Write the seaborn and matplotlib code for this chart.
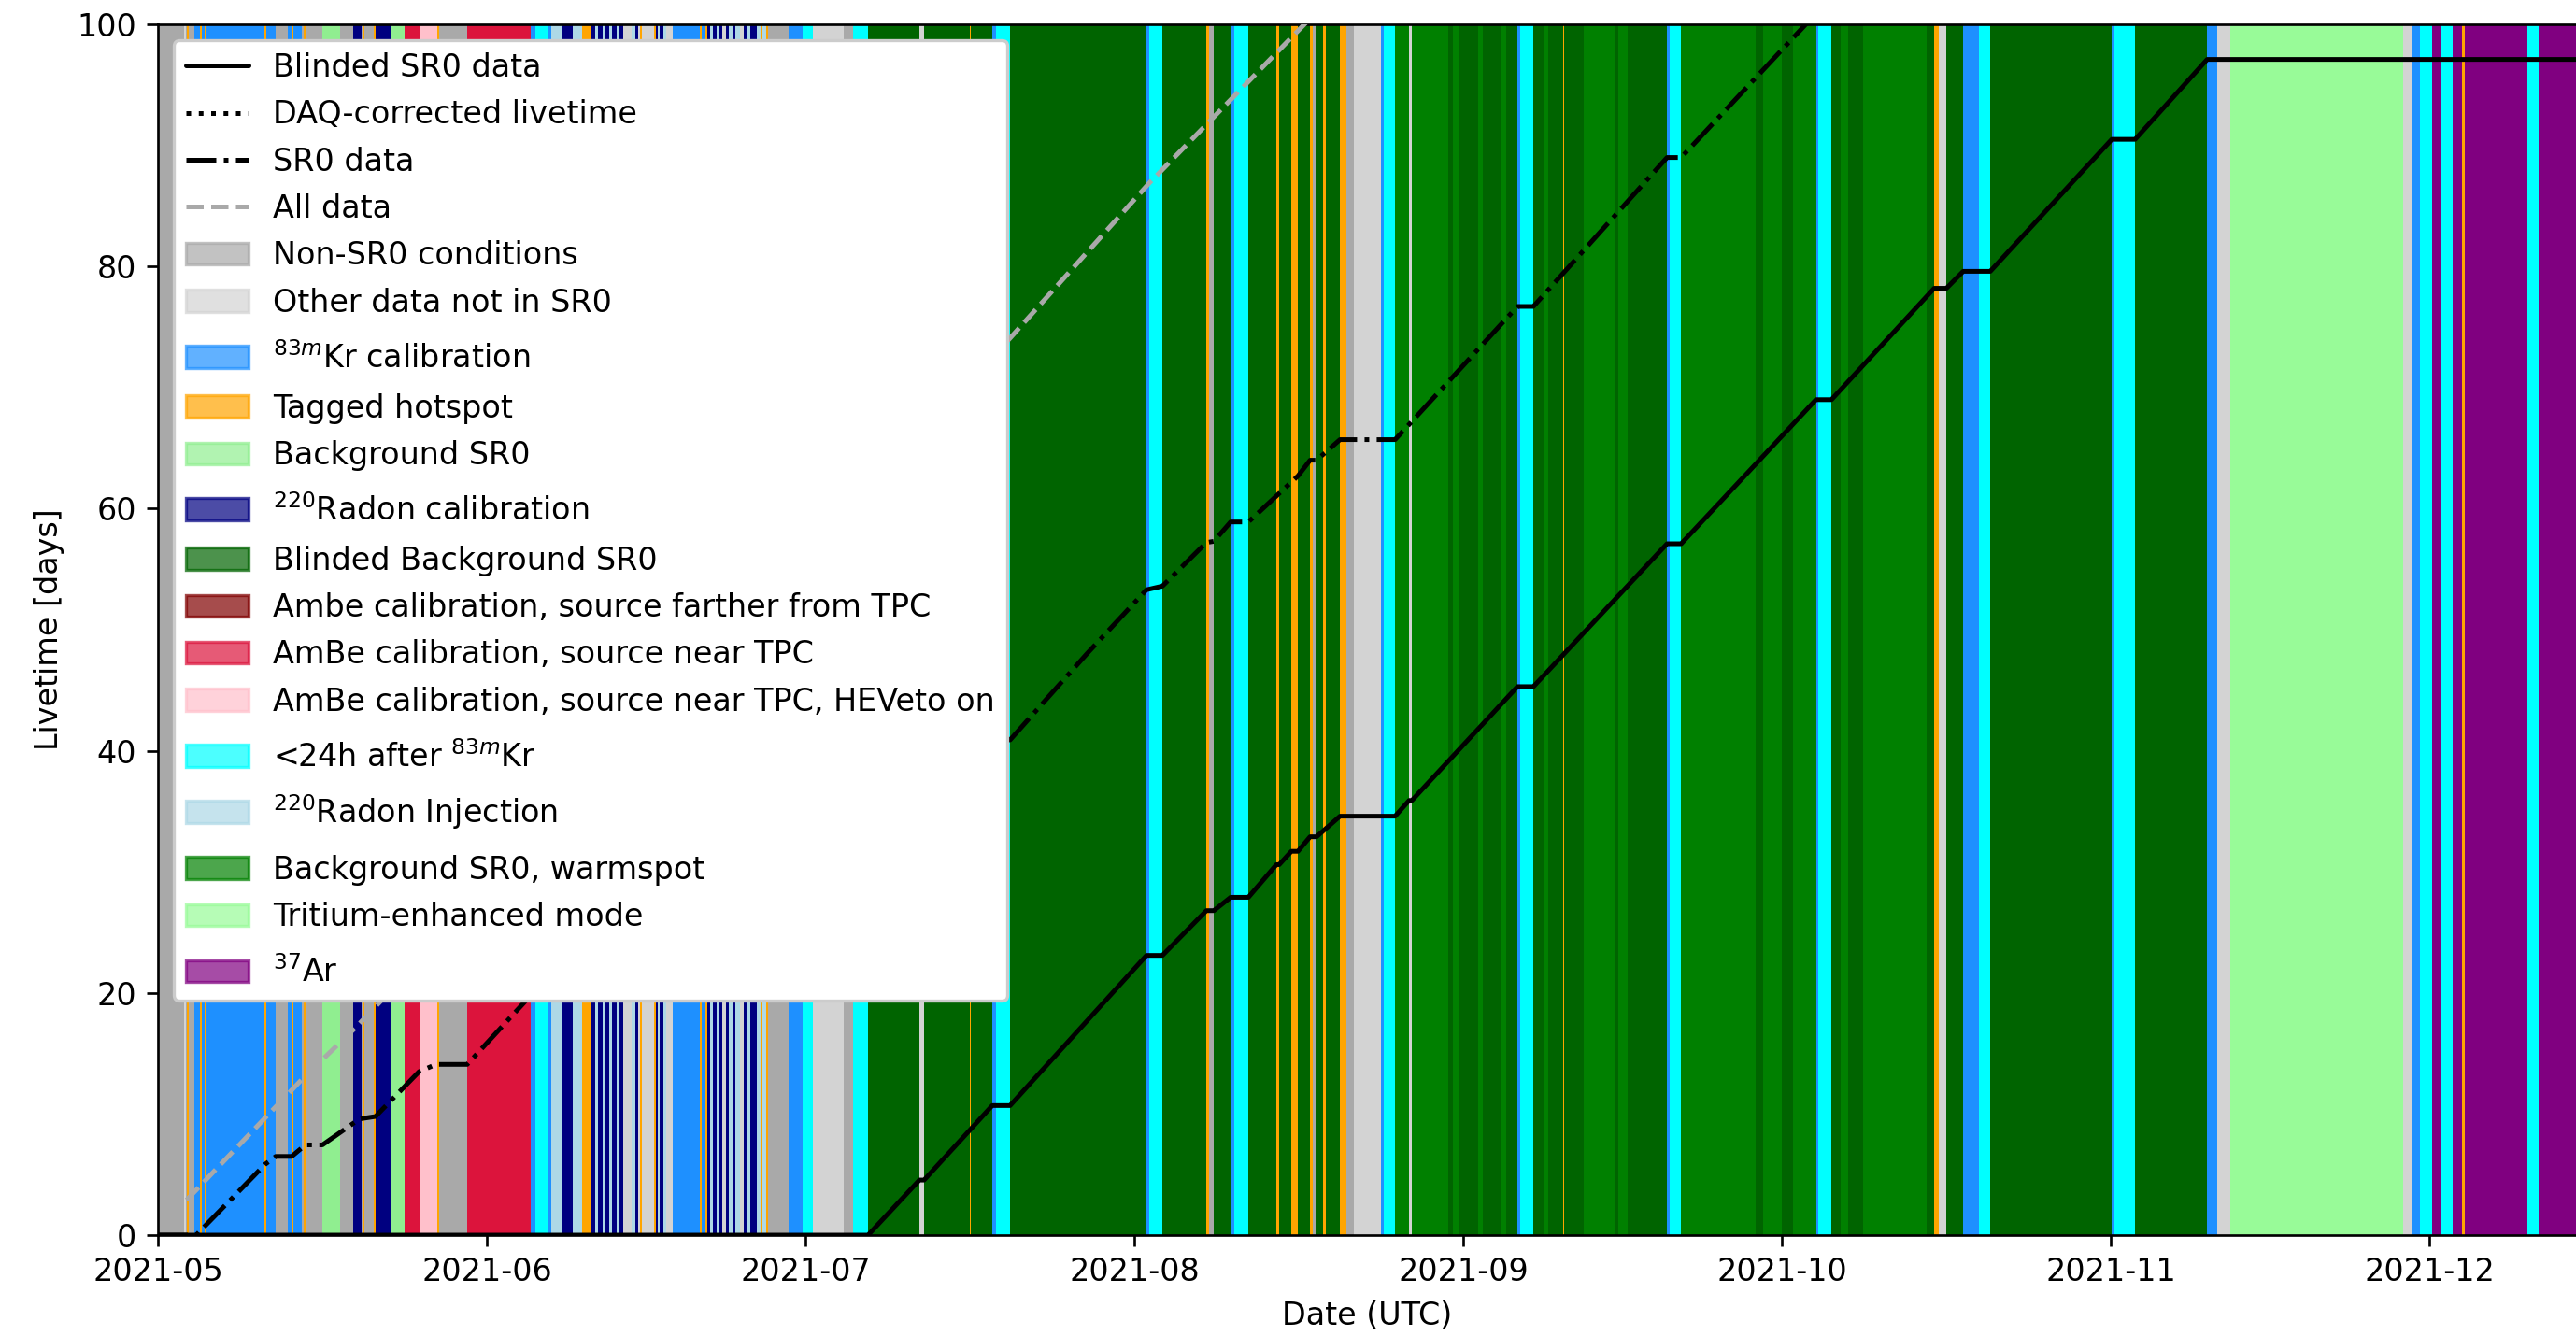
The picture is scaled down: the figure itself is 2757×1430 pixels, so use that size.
import numpy as np
import pandas as pd
import matplotlib
matplotlib.use("Agg")
import matplotlib.pyplot as plt
import matplotlib.dates as mdates
from matplotlib.patches import Patch
from matplotlib.lines import Line2D
import seaborn as sns

START = pd.Timestamp("2021-05-01")
END_DAY = 227.8  # right edge of the time axis, days since START

# ---------------------------------------------------------------------------
# Run-condition timeline. Segment i spans seg_edges[i] .. seg_edges[i+1]
# (days since START) and has condition seg_kind[i].
# ---------------------------------------------------------------------------
seg_edges = [
    0.00, 2.45, 2.60, 2.75, 2.87, 3.43, 4.00, 4.12, 4.43, 4.55,
    10.05, 10.17, 11.10, 12.24, 12.62, 12.74, 13.58, 13.76, 13.88, 15.49,
    17.17, 18.40, 19.19, 19.31, 19.43, 20.36, 20.48, 21.90, 22.02, 23.27,
    24.74, 26.33, 26.47, 29.14, 35.12, 35.56, 36.70, 37.06, 38.10, 39.08,
    39.96, 40.85, 41.20, 41.50, 41.90, 42.20, 42.50, 42.80, 43.20, 43.50,
    43.80, 44.60, 45.00, 45.20, 45.45, 45.57, 46.77, 46.89, 47.10, 47.30,
    47.60, 47.90, 48.50, 51.08, 51.20, 51.60, 51.72, 52.00, 52.30, 52.60,
    52.90, 53.20, 53.50, 53.80, 54.20, 54.40, 54.80, 55.20, 55.50, 55.80,
    56.40, 56.82, 56.94, 57.34, 57.46, 59.42, 60.74, 61.70, 64.60, 65.50,
    66.90, 71.74, 72.18, 76.45, 76.57, 78.60, 78.96, 80.28, 93.13, 93.40,
    94.63, 98.77, 99.03, 99.47, 101.06, 101.40, 102.73, 105.37, 105.63, 106.78,
    107.40, 108.54, 108.80, 109.15, 109.77, 110.04, 111.36, 111.97, 112.70, 115.23,
    115.50, 116.55, 117.87, 118.13, 121.60, 122.00, 122.50, 124.40, 124.80, 126.50,
    127.00, 128.08, 128.35, 129.58, 130.60, 131.00, 132.35, 132.47, 134.30, 137.20,
    137.60, 138.50, 142.17, 142.45, 143.50, 150.50, 151.20, 153.00, 154.00, 156.20,
    156.45, 157.66, 158.50, 159.20, 160.60, 166.60, 167.34, 167.78, 168.49, 170.07,
    171.57, 172.62, 184.07, 184.35, 186.27, 193.05, 194.01, 195.25, 211.53, 212.41,
    213.12, 214.26, 215.14, 216.20, 217.08, 217.34, 223.24, 224.30, 229.00,
]
seg_kind = [
    "nonsr0", "other", "nonsr0", "hot", "nonsr0", "kr", "hot", "kr", "hot", "kr",
    "hot", "kr", "nonsr0", "kr", "hot", "kr", "nonsr0", "hot", "nonsr0", "bg",
    "nonsr0", "rn", "nonsr0", "hot", "nonsr0", "hot", "rn", "hot", "bg", "ambe",
    "ambe_hev", "hot", "nonsr0", "ambe", "kr", "krafter", "kr", "rninj", "rn", "rninj",
    "hot", "rn", "rninj", "rn", "rninj", "rn", "rninj", "rn", "rninj", "rn",
    "other", "rninj", "rn", "other", "hot", "other", "hot", "rn", "rninj", "rn",
    "rninj", "other", "kr", "hot", "kr", "hot", "rn", "rninj", "rn", "rninj",
    "rn", "other", "rn", "rninj", "rn", "rninj", "other", "rn", "rninj", "rn",
    "rninj", "hot", "rninj", "hot", "nonsr0", "kr", "krafter", "other", "nonsr0", "krafter",
    "bbg", "other", "bbg", "hot", "bbg", "kr", "krafter", "bbg", "kr", "krafter",
    "bbg", "hot", "nonsr0", "bbg", "kr", "krafter", "bbg", "hot", "bbg", "hot",
    "bbg", "hot", "nonsr0", "bbg", "hot", "bbg", "hot", "nonsr0", "other", "kr",
    "krafter", "warm", "other", "warm", "bbg", "warm", "bbg", "warm", "bbg", "warm",
    "bbg", "kr", "krafter", "bbg", "warm", "bbg", "hot", "bbg", "warm", "bbg",
    "warm", "bbg", "kr", "krafter", "warm", "bbg", "warm", "bbg", "warm", "kr",
    "krafter", "bbg", "warm", "bbg", "warm", "bbg", "hot", "other", "bbg", "kr",
    "krafter", "bbg", "kr", "krafter", "bbg", "kr", "other", "tritium", "other", "kr",
    "krafter", "ar", "krafter", "ar", "hot", "ar", "krafter", "ar",
]

# Condition categories, in legend order
cat_keys = ["nonsr0", "other", "kr", "hot", "bg", "rn", "bbg", "ambe_far",
            "ambe", "ambe_hev", "krafter", "rninj", "warm", "tritium", "ar"]
cat_labels = [
    "Non-SR0 conditions",
    "Other data not in SR0",
    r"$^{83m}$Kr calibration",
    "Tagged hotspot",
    "Background SR0",
    r"$^{220}$Radon calibration",
    "Blinded Background SR0",
    "Ambe calibration, source farther from TPC",
    "AmBe calibration, source near TPC",
    "AmBe calibration, source near TPC, HEVeto on",
    r"<24h after $^{83m}$Kr",
    r"$^{220}$Radon Injection",
    "Background SR0, warmspot",
    "Tritium-enhanced mode",
    r"$^{37}$Ar",
]
cat_colors = ["darkgray", "lightgray", "dodgerblue", "orange", "lightgreen",
              "navy", "darkgreen", "maroon", "crimson", "pink", "cyan",
              "lightblue", "green", "palegreen", "purple"]

# ---------------------------------------------------------------------------
# Cumulative livetime curves (days since START -> livetime in days)
# ---------------------------------------------------------------------------
blinded_day = [0.0, 66.9, 71.74, 72.18, 78.6, 80.28, 93.13, 94.63, 98.77, 99.47,
               101.06, 102.73, 105.37, 105.63, 106.78, 107.4, 108.54, 109.15,
               111.36, 116.55, 117.87, 118.13, 128.08, 129.58, 142.17, 143.5,
               156.2, 157.66, 167.34, 168.49, 170.07, 172.62, 184.07, 186.27,
               193.05, 227.8]
blinded_val = [0.0, 0.0, 4.55, 4.55, 10.7, 10.7, 23.1, 23.1, 26.8, 26.8,
               27.9, 27.9, 30.6, 30.6, 31.7, 31.7, 32.9, 32.9,
               34.6, 34.6, 35.9, 35.9, 45.3, 45.3, 57.1, 57.1,
               69.0, 69.0, 78.2, 78.2, 79.6, 79.6, 90.5, 90.5,
               97.1, 97.1]

sr0_day = [0.0, 3.6, 10.1, 11.1, 12.6, 13.9, 15.5, 19.0, 20.5, 24.6,
           26.2, 29.14, 35.12, 38.1, 40.85, 48.5, 51.1, 57.4, 66.9, 71.74,
           72.18, 78.6, 80.28, 87.5, 93.13, 94.63, 98.77, 99.47, 101.06, 102.73,
           107.4, 108.54, 109.15, 111.36, 116.55, 118.13, 128.08, 129.58, 142.17,
           143.5, 156.2]
sr0_val = [0.0, 0.0, 5.85, 6.5, 6.5, 7.45, 7.45, 9.6, 9.8, 13.5,
           14.1, 14.1, 19.8, 21.5, 23.0, 27.0, 29.2, 30.2, 30.2, 34.75,
           34.75, 40.9, 40.9, 48.0, 53.3, 53.6, 57.2, 57.3, 58.9, 58.9,
           62.7, 64.0, 64.0, 65.7, 65.7, 67.2, 76.7, 76.7, 89.0,
           89.0, 100.9]

all_day = [2.7, 13.5, 18.8, 80.3, 93.4, 108.0, 110.0]
all_val = [2.9, 12.8, 17.3, 74.1, 86.9, 100.0, 101.8]


def to_time(days):
    return START + pd.to_timedelta(np.asarray(days, dtype=float), unit="D")


sns.set_style("ticks")
plt.rcParams["font.family"] = ["DejaVu Sans"]
plt.rcParams["font.size"] = 10
plt.rcParams["text.color"] = "black"
plt.rcParams["axes.labelcolor"] = "black"
plt.rcParams["xtick.color"] = "black"
plt.rcParams["ytick.color"] = "black"
plt.rcParams["axes.edgecolor"] = "black"

DPI = 240
fig = plt.figure(figsize=(2757 / DPI, 1430 / DPI), dpi=DPI)
ax = fig.add_axes([0.0613, 0.0755, 0.9387, 0.9063])

color_of = dict(zip(cat_keys, cat_colors))
edge_times = mdates.date2num(to_time(seg_edges))
for i, kind in enumerate(seg_kind):
    ax.axvspan(edge_times[i], edge_times[i + 1], color=color_of[kind],
               lw=0, zorder=0)

curves = pd.concat([
    pd.DataFrame({"time": to_time(blinded_day), "livetime": blinded_val,
                  "series": "Blinded SR0 data"}),
    pd.DataFrame({"time": to_time(sr0_day), "livetime": sr0_val,
                  "series": "SR0 data"}),
    pd.DataFrame({"time": to_time(all_day), "livetime": all_val,
                  "series": "All data"}),
], ignore_index=True)

line_styles = {"Blinded SR0 data": ("black", "-"),
               "SR0 data": ("black", "-."),
               "All data": ("darkgray", "--")}
for name, (col, ls) in line_styles.items():
    sub = curves[curves["series"] == name]
    sns.lineplot(data=sub, x="time", y="livetime", ax=ax, color=col,
                 linestyle=ls, lw=1.5, estimator=None, sort=False,
                 zorder=3, legend=False)

ax.set_xlim(to_time([0.0])[0], to_time([END_DAY])[0])
ax.set_ylim(0, 100)
ax.set_yticks([0, 20, 40, 60, 80, 100])
ax.xaxis.set_major_locator(mdates.MonthLocator())
ax.xaxis.set_major_formatter(mdates.DateFormatter("%Y-%m"))
ax.set_xlabel("Date (UTC)", fontsize=10)
ax.set_ylabel("Livetime [days]", fontsize=10)
ax.tick_params(labelsize=10, direction="out", length=3.5, width=0.8)
ax.spines["right"].set_visible(False)
for s in ("left", "bottom", "top"):
    ax.spines[s].set_linewidth(0.8)

handles = [
    Line2D([], [], color="black", ls="-", lw=1.5, label="Blinded SR0 data"),
    Line2D([], [], color="black", ls=":", lw=1.5, label="DAQ-corrected livetime"),
    Line2D([], [], color="black", ls="-.", lw=1.5, label="SR0 data"),
    Line2D([], [], color="darkgray", ls="--", lw=1.5, label="All data"),
]
for lab, col in zip(cat_labels, cat_colors):
    handles.append(Patch(facecolor=col, edgecolor=col, alpha=0.7, label=lab))

leg = ax.legend(handles=handles, loc="upper left", fontsize=10,
                framealpha=1.0, edgecolor="0.8", fancybox=True,
                labelspacing=0.52)
leg.set_zorder(5)

# Legend rows holding superscripted labels get extra headroom (points above /
# below the baseline box of a plain text row).
row_extra = {6: (2.9, 0.8), 9: (2.8, 0.8), 14: (2.9, 0.0),
             15: (2.9, 2.9), 18: (2.9, 0.0)}
fig.canvas.draw()
renderer = fig.canvas.get_renderer()
dpi_cor = renderer.points_to_pixels(1.0)
rows = leg._legend_handle_box.get_children()[0].get_children()
plain = rows[0].get_children()[1].get_bbox(renderer)
for i, (above, below) in row_extra.items():
    hbox = rows[i].get_children()[0]
    top = plain.y1 + above * dpi_cor
    bottom = plain.y0 - below * dpi_cor
    hbox.ydescent = -bottom / dpi_cor
    hbox.height = (top - bottom) / dpi_cor

fig.savefig("out.png", dpi=DPI)
